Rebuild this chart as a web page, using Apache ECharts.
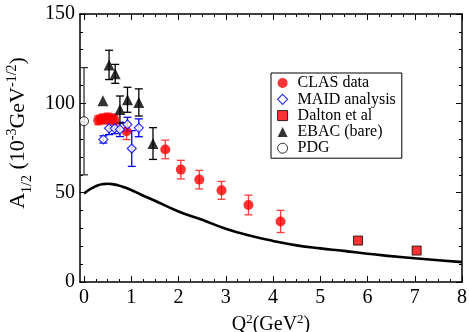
<!DOCTYPE html>
<html>
<head>
<meta charset="utf-8">
<script src="https://cdn.jsdelivr.net/npm/echarts@6/dist/echarts.min.js"></script>
<style>
  html, body { margin: 0; padding: 0; background: #fff; }
  #chart { width: 469px; height: 332px; }
</style>
</head>
<body>
<div id="chart"></div>
<script>
// CLAS data (red circles)
const clasQ2 = [0.3, 0.35, 0.4, 0.45, 0.5, 0.55, 0.6, 0.65, 0.9, 1.72, 2.05, 2.44, 2.91, 3.48, 4.16];
const clasA = [90.5, 91, 91.5, 91, 92, 91, 91.5, 90.5, 84.4, 74.2, 62.9, 57.3, 51.3, 43.1, 33.9];
const clasErr = [2.5, 2.5, 2.5, 2.5, 2.5, 2.5, 2.5, 2.5, 4.7, 5.2, 5.2, 5.2, 5, 5.5, 6.2];

// MAID analysis (blue open diamonds)
const maidQ2 = [0.41, 0.53, 0.65, 0.76, 0.92, 1.01, 1.16];
const maidA = [79.8, 86, 86, 85.4, 88.2, 74.7, 86.3];
const maidErr = [2, 3.5, 3, 4, 4, 10, 5];

// Dalton et al (red squares)
const daltonQ2 = [5.8, 7.04];
const daltonA = [23.2, 17.6];

// EBAC (bare) (black triangles)
const ebacQ2 = [0.40, 0.53, 0.66, 0.76, 0.92, 1.16, 1.46];
const ebacA = [101.5, 121.5, 116.5, 96.5, 102, 100.5, 77.5];
const ebacErr = [0, 8.2, 5.3, 7.6, 7, 7.6, 8.9];

// PDG (open circle)
const pdgQ2 = [0];
const pdgA = [90];
const pdgErr = [30];

// model curve
const curveQ2 = [0, 0.1, 0.2, 0.3, 0.4, 0.5, 0.6, 0.8, 1.0, 1.2, 1.5, 2.0, 2.5, 3.0, 3.5, 4.0, 4.5, 5.0, 5.5, 6.0, 6.5, 7.0, 7.5, 8.0];
const curveA = [49.5, 51.5, 53, 54.2, 54.8, 55, 54.8, 53.5, 51.5, 49, 45.5, 39.5, 34.8, 29.8, 26, 23, 20.5, 18.8, 17.4, 15.8, 14.5, 13.3, 12.2, 11.1];

// axis ticks
const xMajor = [0, 1, 2, 3, 4, 5, 6, 7, 8];
const xMinor = [0.25, 0.5, 0.75, 1.25, 1.5, 1.75, 2.25, 2.5, 2.75, 3.25, 3.5, 3.75,
  4.25, 4.5, 4.75, 5.25, 5.5, 5.75, 6.25, 6.5, 6.75, 7.25, 7.5, 7.75];
const xMin = -0.085;

const FONT = "Liberation Serif";
const pts = (xs, ys) => xs.map((x, i) => [x, ys[i]]);

function errBars(xs, ys, es, color) {
  return {
    type: "custom",
    silent: true,
    clip: false,
    z: 1,
    data: xs.map((x, i) => [x, ys[i] - es[i], ys[i] + es[i]]).filter((d) => d[2] > d[1]),
    renderItem: (params, api) => {
      const lo = api.coord([api.value(0), api.value(1)]);
      const hi = api.coord([api.value(0), api.value(2)]);
      const w = 4;
      const st = { stroke: color, lineWidth: 1.3 };
      return {
        type: "group",
        children: [
          { type: "line", shape: { x1: lo[0], y1: lo[1], x2: hi[0], y2: hi[1] }, style: st },
          { type: "line", shape: { x1: lo[0] - w, y1: lo[1], x2: lo[0] + w, y2: lo[1] }, style: st },
          { type: "line", shape: { x1: hi[0] - w, y1: hi[1], x2: hi[0] + w, y2: hi[1] }, style: st },
        ],
      };
    },
  };
}

const lineOn = { show: true, onZero: false, lineStyle: { color: "#000", width: 1.5 } };
const lineOff = { show: false, onZero: false };
const tickStyle = { color: "#000", width: 1 };

function xAx(position, vals, len, main) {
  return {
    type: "value",
    position,
    min: xMin,
    max: 8,
    axisLine: main ? lineOn : lineOff,
    axisTick: { show: true, inside: true, length: len, customValues: vals, lineStyle: tickStyle },
    axisLabel: main && position === "bottom"
      ? { show: true, customValues: xMajor, fontFamily: FONT, fontSize: 20, color: "#000", margin: 6 }
      : { show: false },
    splitLine: { show: false },
  };
}

function yAx(position) {
  return {
    type: "value",
    position,
    min: 0,
    max: 150,
    interval: 50,
    axisLine: lineOn,
    axisTick: { show: true, inside: true, length: 6, lineStyle: tickStyle },
    minorTick: { show: true, splitNumber: 5, length: 3, lineStyle: tickStyle },
    axisLabel: position === "left"
      ? { fontFamily: FONT, fontSize: 20, color: "#000", margin: 5 }
      : { show: false },
    splitLine: { show: false },
  };
}

const xBottom = xAx("bottom", xMajor, 6, true);
xBottom.name = "{b|Q}{s|2}{b|(GeV}{s|2}{b|)}";
xBottom.nameLocation = "middle";
xBottom.nameGap = 30;
xBottom.nameTextStyle = {
  rich: {
    b: { fontFamily: FONT, fontSize: 20, color: "#000", verticalAlign: "bottom" },
    s: { fontFamily: FONT, fontSize: 13, color: "#000", verticalAlign: "bottom", padding: [0, 0, 9, 0] },
  },
};

const yLeft = yAx("left");
yLeft.name = "{b|A}{d|1/2}{b| (10}{s|-3}{b|GeV}{s|-1/2}{b|)}";
yLeft.nameLocation = "middle";
yLeft.nameRotate = 90;
yLeft.nameGap = 46;
yLeft.nameTextStyle = {
  padding: [0, 0, 0, 30],
  rich: {
    b: { fontFamily: FONT, fontSize: 22, color: "#000", verticalAlign: "bottom", padding: [0, 0, 5, 0] },
    d: { fontFamily: FONT, fontSize: 14, color: "#000", verticalAlign: "bottom" },
    s: { fontFamily: FONT, fontSize: 14, color: "#000", verticalAlign: "bottom", padding: [0, 0, 15, 0] },
  },
};

const chart = echarts.init(document.getElementById("chart"));
chart.setOption({
  animation: false,
  backgroundColor: "#fff",
  grid: { left: 80, right: 7, top: 14, bottom: 50, outerBoundsMode: "none" },
  legend: {
    orient: "vertical",
    left: 271,
    top: 73,
    padding: [2, 6, 2, 6],
    itemGap: 0.3,
    itemWidth: 10,
    itemHeight: 10,
    borderColor: "#000",
    borderWidth: 1,
    backgroundColor: "#fff",
    textStyle: { fontFamily: FONT, fontSize: 16, color: "#000", padding: [0, 0, 0, 5] },
    data: [
      { name: "CLAS data", icon: "circle" },
      { name: "MAID analysis", icon: "diamond", itemStyle: { color: "#fff", borderColor: "#0000ff", borderWidth: 1.2 } },
      { name: "Dalton et al", icon: "rect", itemStyle: { color: "#ff0000", borderColor: "#000", borderWidth: 1 } },
      { name: "EBAC (bare)", icon: "triangle" },
      { name: "PDG", icon: "circle", itemStyle: { color: "#fff", borderColor: "#000", borderWidth: 1 } },
    ],
  },
  xAxis: [
    xBottom,
    xAx("bottom", xMinor, 3, false),
    xAx("top", xMajor, 6, true),
    xAx("top", xMinor, 3, false),
  ],
  yAxis: [yLeft, yAx("right")],
  series: [
    {
      type: "line",
      data: pts(curveQ2, curveA),
      smooth: true,
      showSymbol: false,
      silent: true,
      lineStyle: { color: "#000", width: 2.6 },
      z: 1,
    },
    errBars(pdgQ2, pdgA, pdgErr, "#333"),
    errBars(clasQ2, clasA, clasErr, "#ff3b3b"),
    errBars(maidQ2, maidA, maidErr, "#0000ff"),
    errBars(ebacQ2, ebacA, ebacErr, "#000"),
    {
      name: "PDG",
      type: "scatter",
      data: pts(pdgQ2, pdgA),
      symbol: "circle",
      symbolSize: 9,
      clip: false,
      itemStyle: { color: "#fff", borderColor: "#000", borderWidth: 1 },
      z: 3,
    },
    {
      name: "EBAC (bare)",
      type: "scatter",
      data: pts(ebacQ2, ebacA),
      symbol: "triangle",
      symbolSize: 11,
      itemStyle: { color: "#000" },
      z: 3,
    },
    {
      name: "CLAS data",
      type: "scatter",
      data: pts(clasQ2, clasA),
      symbol: "circle",
      symbolSize: 10,
      itemStyle: { color: "#ff0000" },
      z: 3,
    },
    {
      name: "MAID analysis",
      type: "scatter",
      data: pts(maidQ2, maidA),
      symbol: "diamond",
      symbolSize: 9,
      itemStyle: { color: "#fff", borderColor: "#0000ff", borderWidth: 1.2 },
      z: 4,
    },
    {
      name: "Dalton et al",
      type: "scatter",
      data: pts(daltonQ2, daltonA),
      symbol: "rect",
      symbolSize: 9,
      itemStyle: { color: "#ff0000", borderColor: "#000", borderWidth: 1 },
      z: 3,
    },
  ],
});
</script>
</body>
</html>
